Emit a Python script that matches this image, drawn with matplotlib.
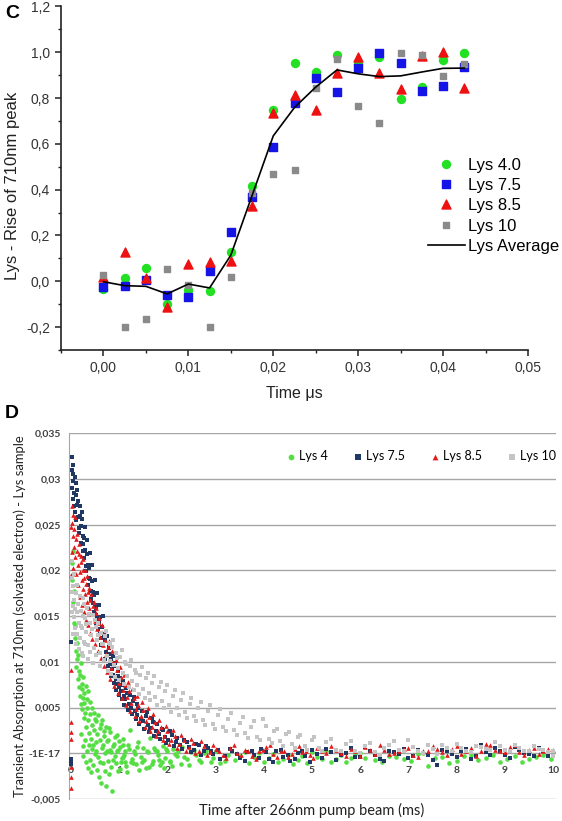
import numpy as np
import matplotlib
matplotlib.use("Agg")
import matplotlib.pyplot as plt
from matplotlib.ticker import FuncFormatter, MultipleLocator

plt.rcParams["font.family"] = ["Liberation Sans", "DejaVu Sans"]

# ---- panel C : rise of the 710nm peak ----
time_us = [0.0, 0.0025, 0.005, 0.0075, 0.01, 0.0125, 0.015, 0.0175, 0.02,
           0.0225, 0.025, 0.0275, 0.03, 0.0325, 0.035, 0.0375, 0.04, 0.0425]
lys40 = [-0.034, 0.015, 0.058, -0.100, -0.040, -0.041, 0.130, 0.415, 0.749,
         0.953, 0.915, 0.988, 0.951, 0.980, 0.798, 0.849, 0.966, 0.998]
lys75 = [-0.023, -0.020, 0.006, -0.058, -0.067, 0.044, 0.215, 0.370, 0.588,
         0.780, 0.886, 0.825, 0.930, 0.998, 0.954, 0.832, 0.853, 0.937]
lys85 = [0.020, 0.130, 0.013, -0.114, 0.076, 0.083, 0.090, 0.327, 0.734,
         0.815, 0.750, 0.910, 0.978, 0.908, 0.838, 0.985, 1.002, 0.842]
lys10 = [0.028, -0.200, -0.165, 0.054, -0.016, -0.200, 0.020, 0.385, 0.469,
         0.486, 0.842, 0.969, 0.765, 0.690, 0.998, 0.990, 0.897, 0.948]
lys_avg = [-0.002, -0.019, -0.022, -0.055, -0.012, -0.029, 0.114, 0.374, 0.635,
           0.759, 0.848, 0.923, 0.906, 0.894, 0.897, 0.914, 0.930, 0.931]

# ---- panel D : transient absorption decay, (time ms, absorbance x 1e-3) ----
d_lys4 = [(0.02, 20.8), (0.03, 18.9), (0.04, 22.1), (0.05, 16.5), (0.06, 14.3), (0.08, 12.6),
          (0.1, 11.2), (0.11, 9.4), (0.13, 10.3), (0.14, 8.1), (0.16, 7.2), (0.17, 9.0),
          (0.19, 6.3), (0.2, 5.4), (0.22, 7.6), (0.23, 4.8), (0.25, 6.1), (0.27, 3.9),
          (0.28, 5.5), (0.3, 4.4), (0.32, 2.9), (0.33, 5.0), (0.35, 3.6), (0.37, 2.2),
          (0.39, 4.3), (0.41, 1.6), (0.43, 3.1), (0.45, 0.9), (0.47, 2.6), (0.49, 3.8),
          (0.51, 1.2), (0.53, 0.3), (0.55, 2.1), (0.57, -0.4), (0.6, 1.5), (0.62, 3.2),
          (0.64, 0.6), (0.66, -1.1), (0.68, 2.4), (0.7, 0.0), (0.72, -3.6), (0.74, 1.3),
          (0.76, -0.8), (0.78, 2.8), (0.8, 0.4), (0.83, -1.5), (0.86, -4.1), (0.89, 1.0),
          (0.92, -0.3), (0.95, 2.0), (0.98, -1.9), (1.01, 0.7), (1.04, -0.9), (1.07, 1.6),
          (1.1, -0.2), (1.14, -1.4), (1.18, 0.9), (1.22, 2.5), (1.26, -0.6), (1.3, 0.3),
          (1.35, -1.2), (1.4, 1.2), (1.45, -0.4), (1.5, 0.6), (1.55, -1.6), (1.6, 0.1),
          (1.65, 1.7), (1.7, -0.8), (1.75, 0.4), (1.8, -0.2), (1.85, -1.3), (1.9, 0.8),
          (1.95, -0.5), (2.0, 0.2), (2.06, -0.9), (2.12, 0.5), (2.2, -0.3), (2.3, 0.7),
          (2.4, -0.6), (2.5, 0.1), (2.6, -0.2), (2.7, -0.9), (2.8, 0.3), (2.95, -0.5),
          (3.1, -1.1), (3.25, -0.2), (3.4, -0.7), (3.6, 0.1), (3.8, -0.4), (4.0, -0.9),
          (4.2, -0.1), (4.4, -0.6), (4.6, -1.2), (4.8, -0.3), (5.0, 0.1), (5.2, -0.6),
          (5.4, -1.0), (5.6, -0.2), (5.8, -0.5), (6.0, 0.0), (6.3, -0.7), (6.6, -0.3),
          (6.9, -0.6), (7.2, -0.1), (7.4, -1.4), (7.7, -0.4), (8.0, -0.8), (8.3, -0.2),
          (8.6, -0.5), (8.9, -0.9), (9.2, -0.3), (9.5, -0.6), (9.8, -0.2),
          (0.21, 2.1), (0.24, 0.8), (0.26, -0.3), (0.29, 1.4), (0.31, -1.0), (0.34, 0.2),
          (0.36, -1.6), (0.38, 0.9), (0.4, -0.7), (0.42, -2.0), (0.44, 0.5), (0.46, -1.3),
          (0.5, -0.1), (0.54, -1.8), (0.58, -2.6), (0.61, -0.9), (0.63, -3.2), (0.67, 0.9),
          (0.71, -1.9), (0.75, 0.2), (0.79, -2.3), (0.84, 0.1), (0.88, -0.7), (0.93, -1.1),
          (0.97, 0.4), (1.02, -1.7), (1.08, -0.4), (1.12, 0.2), (1.17, -2.0), (1.24, -0.9),
          (1.33, -0.1), (1.42, -1.8), (1.52, -0.7), (1.62, -1.5), (1.72, 0.6), (1.82, -0.7),
          (1.92, -1.6), (2.05, -0.8), (2.15, -0.1), (2.28, -1.2),
          (0.07, 17.8), (0.09, 13.9), (0.12, 12.1), (0.15, 10.8), (0.18, 8.6), (0.2, 9.9),
          (0.23, 7.0), (0.26, 8.3), (0.28, 6.6), (0.31, 7.4), (0.34, 5.9), (0.36, 6.8),
          (0.4, 5.6), (0.44, 4.9), (0.48, 4.4), (0.52, 3.5), (0.56, 4.2), (0.6, 2.8),
          (0.65, 3.6), (0.69, 1.9), (0.73, 2.9), (0.77, 1.4), (0.82, 2.3), (0.87, 0.8),
          (0.91, 1.8), (0.96, 0.2), (1.0, 1.3), (1.05, -0.5), (1.09, 0.9), (1.13, -1.0),
          (1.2, 0.5), (1.28, -1.1), (1.37, 0.7), (1.47, -0.9), (1.57, 0.3), (1.68, -1.2),
          (1.78, 0.2), (1.88, -0.9), (1.98, 0.5), (2.1, -1.4), (2.22, 0.3), (2.35, -0.4),
          (2.45, -1.3), (2.55, 0.4), (2.65, -0.7), (2.75, 0.0), (2.9, -1.0), (3.0, 0.2),
          (3.2, -0.8), (3.5, -0.3), (3.7, -1.1), (3.9, 0.0), (4.1, -0.5), (4.3, -1.0),
          (4.5, -0.2), (4.7, -0.7), (4.9, -1.1), (5.1, -0.4), (5.3, 0.2), (5.5, -0.6),
          (5.7, -0.9), (5.9, -0.1), (6.1, -0.5), (6.45, -1.0), (6.75, -0.4), (7.05, -0.8),
          (7.3, 0.0), (7.55, -0.5), (7.85, -1.1), (8.15, -0.3), (8.45, -0.7), (8.75, -0.2),
          (9.05, -0.6), (9.35, -1.0), (9.65, -0.4), (9.95, -0.6)]

d_lys75 = [(0.02, 32.4), (0.03, 31.0), (0.04, 30.6), (0.05, 29.8), (0.03, 29.0), (0.06, 28.5),
           (0.08, 30.2), (0.04, 27.8), (0.1, 28.3), (0.12, 27.2), (0.09, 26.4), (0.15, 27.6),
           (0.14, 25.8), (0.18, 26.0), (0.2, 24.9), (0.17, 24.1), (0.22, 25.6), (0.25, 23.8),
           (0.24, 22.9), (0.28, 23.6), (0.3, 22.2), (0.27, 21.4), (0.33, 21.8), (0.35, 20.6),
           (0.32, 19.9), (0.38, 20.3), (0.4, 19.1), (0.36, 18.4), (0.43, 18.8), (0.45, 17.6),
           (0.42, 16.9), (0.48, 17.3), (0.5, 16.2), (0.47, 15.5), (0.53, 15.9), (0.55, 14.8),
           (0.52, 13.9), (0.58, 14.4), (0.6, 13.2), (0.62, 12.6), (0.65, 13.8), (0.67, 11.9),
           (0.7, 12.4), (0.72, 11.1), (0.75, 10.6), (0.78, 11.5), (0.8, 9.8), (0.83, 10.3),
           (0.85, 9.2), (0.88, 8.6), (0.9, 9.5), (0.93, 8.1), (0.95, 7.6), (0.98, 8.4),
           (1.0, 7.2), (1.03, 6.8), (1.06, 7.5), (1.1, 6.3), (1.13, 5.9), (1.16, 6.6),
           (1.2, 5.4), (1.24, 5.0), (1.28, 5.7), (1.32, 4.6), (1.36, 4.2), (1.4, 4.9),
           (1.45, 3.8), (1.5, 3.5), (1.55, 4.1), (1.6, 3.1), (1.65, 2.8), (1.7, 3.4),
           (1.76, 2.4), (1.82, 2.1), (1.88, 2.7), (1.95, 1.8), (2.02, 1.5), (2.1, 2.0),
           (2.18, 1.2), (2.26, 0.9), (2.35, 1.4), (2.45, 0.7), (2.55, 0.4), (2.65, 0.9),
           (2.75, 0.2), (2.85, 0.6), (2.95, -0.1), (3.05, 0.4), (3.2, -0.3), (3.35, 0.3),
           (3.5, -0.5), (3.65, 0.1), (3.8, -0.2), (3.95, 0.5), (4.1, -0.6), (4.25, 0.2),
           (4.4, -0.4), (4.55, -0.8), (4.7, 0.0), (4.85, -0.3), (5.0, 0.4), (5.2, -0.5),
           (5.4, 0.1), (5.6, -0.2), (5.8, 0.6), (6.0, -0.4), (6.2, 0.2), (6.4, -0.6),
           (6.6, 0.3), (6.8, -0.1), (7.0, -0.5), (7.2, 0.4), (7.4, -0.2), (7.6, -1.3),
           (7.8, 0.2), (8.0, -0.4), (8.2, 0.5), (8.4, -0.3), (8.6, 0.1), (8.8, 0.6),
           (9.0, -0.2), (9.2, 0.7), (9.4, 0.0), (9.6, -0.3), (9.8, 0.2),
           (0.0, 12.2), (0.0, -0.9), (0.0, -1.2), (0.01, -0.6),
           (0.05, 31.5), (0.07, 27.0), (0.1, 29.6), (0.11, 25.5), (0.13, 28.8), (0.16, 24.6),
           (0.19, 27.1), (0.21, 23.0), (0.23, 26.4), (0.26, 22.1), (0.29, 24.7), (0.31, 20.5),
           (0.34, 23.3), (0.37, 19.2), (0.39, 21.9), (0.41, 17.8), (0.44, 20.6), (0.46, 16.4),
           (0.49, 19.0), (0.51, 15.1), (0.54, 17.5), (0.56, 13.6), (0.59, 16.2), (0.61, 14.9),
           (0.63, 11.8), (0.66, 15.0), (0.69, 13.1), (0.71, 10.3), (0.74, 12.8), (0.77, 9.5),
           (0.79, 12.0), (0.82, 10.9), (0.84, 8.4), (0.87, 10.6), (0.89, 7.7), (0.92, 9.9),
           (0.94, 6.9), (0.97, 9.0), (0.99, 6.4), (1.02, 8.2), (1.05, 5.9), (1.08, 7.9),
           (1.11, 5.3), (1.15, 7.1), (1.18, 4.7), (1.22, 6.4), (1.26, 4.3), (1.3, 6.2),
           (1.34, 3.7), (1.38, 5.4), (1.42, 3.2), (1.47, 4.6), (1.52, 2.7), (1.57, 4.5),
           (1.62, 2.3), (1.68, 3.9), (1.73, 1.9), (1.79, 3.2), (1.85, 1.6), (1.91, 2.6),
           (1.98, 1.1), (2.05, 2.4), (2.13, 0.8), (2.21, 1.7), (2.3, 0.5), (2.4, 1.2),
           (2.5, 0.1), (2.6, 1.0), (2.7, -0.2), (2.8, 0.8), (2.9, 0.3),
           (3.1, -0.6), (3.3, 0.5), (3.45, -0.1), (3.6, -0.8), (3.75, 0.3), (3.9, -0.5),
           (4.05, 0.1), (4.2, -0.9), (4.35, 0.4), (4.5, -0.2), (4.65, -0.6), (4.8, 0.3),
           (4.95, -0.9), (5.1, -0.1), (5.3, 0.5), (5.5, -0.7), (5.7, 0.0), (5.9, -0.4),
           (6.1, 0.7), (6.3, -0.2), (6.5, -0.8), (6.7, 0.1), (6.9, 0.5), (7.1, -0.3),
           (7.3, 0.0), (7.5, -0.7), (7.7, 0.4), (7.9, -0.1), (8.1, 0.3), (8.3, -0.6),
           (8.5, 0.9), (8.7, -0.2), (8.9, 0.2), (9.1, -0.5), (9.3, 0.4), (9.5, -0.1),
           (9.7, 0.6), (9.9, -0.3)]

d_lys85 = [(0.02, 27.0), (0.03, 25.2), (0.05, 26.1), (0.04, 23.8), (0.07, 24.5), (0.06, 22.6),
           (0.1, 23.4), (0.09, 21.5), (0.12, 22.1), (0.14, 20.6), (0.16, 21.8), (0.18, 19.8),
           (0.2, 20.9), (0.22, 18.9), (0.24, 20.1), (0.26, 18.0), (0.28, 19.2), (0.3, 17.4),
           (0.32, 18.5), (0.34, 16.6), (0.36, 17.6), (0.38, 15.9), (0.4, 16.8), (0.43, 15.2),
           (0.46, 16.1), (0.49, 14.5), (0.52, 15.3), (0.55, 13.6), (0.58, 14.2), (0.61, 12.7),
           (0.64, 13.3), (0.67, 11.8), (0.7, 12.4), (0.73, 10.9), (0.76, 11.6), (0.8, 10.2),
           (0.84, 9.3), (0.88, 10.0), (0.92, 8.5), (0.96, 9.1), (1.0, 7.7), (1.04, 8.3),
           (1.08, 6.9), (1.12, 7.5), (1.16, 6.2), (1.2, 6.8), (1.25, 5.5), (1.3, 6.0),
           (1.35, 4.8), (1.4, 5.3), (1.45, 4.1), (1.5, 4.7), (1.56, 3.5), (1.62, 4.0),
           (1.68, 2.9), (1.74, 3.4), (1.8, 2.4), (1.86, 2.9), (1.93, 1.9), (2.0, 2.4),
           (2.08, 1.5), (2.16, 1.9), (2.25, 1.0), (2.34, 1.5), (2.44, 0.7), (2.54, 1.1),
           (2.65, 0.3), (2.76, 0.8), (2.88, 0.1), (3.0, 0.5), (3.15, -0.2), (3.3, 0.6),
           (3.45, 0.0), (3.6, 0.4), (3.75, -0.3), (3.9, 0.2), (4.05, 0.7), (4.2, -0.1),
           (4.35, 0.3), (4.5, -0.4), (4.65, 0.5), (4.8, 0.1), (4.95, -0.2), (5.1, 0.6),
           (5.3, 0.0), (5.5, 0.4), (5.7, -0.3), (5.9, 0.3), (6.1, 0.7), (6.3, -0.1),
           (6.5, 0.4), (6.7, 0.0), (6.9, 0.5), (7.1, -0.2), (7.3, 0.3), (7.5, 0.8),
           (7.7, 0.1), (7.9, 0.5), (8.1, -0.1), (8.3, 0.6), (8.5, 0.2), (8.7, 0.9),
           (8.9, 0.3), (9.1, 0.7), (9.3, 0.1), (9.5, 0.4), (9.7, -0.1), (9.9, 0.5),
           (0.0, 9.1), (0.0, 3.4), (0.0, 2.3), (0.0, 1.6), (0.0, -1.5), (0.0, -2.6),
           (0.01, -3.8), (0.0, 19.5), (0.0, 24.8),
           (0.03, 22.0), (0.05, 20.3), (0.08, 25.8), (0.1, 19.6), (0.13, 24.0), (0.15, 18.4),
           (0.17, 22.9), (0.19, 17.1), (0.21, 21.6), (0.23, 16.2), (0.25, 21.2), (0.27, 15.4),
           (0.29, 20.0), (0.31, 14.6), (0.33, 19.4), (0.35, 14.0), (0.37, 18.1), (0.39, 13.2),
           (0.41, 17.4), (0.44, 12.5), (0.47, 16.6), (0.5, 11.9), (0.53, 15.9), (0.56, 11.2),
           (0.59, 14.8), (0.62, 10.4), (0.65, 14.0), (0.68, 9.6), (0.71, 13.0), (0.74, 8.9),
           (0.78, 12.3), (0.82, 8.1), (0.86, 11.2), (0.9, 7.4), (0.94, 10.2), (0.98, 6.6),
           (1.02, 9.4), (1.06, 6.0), (1.1, 8.6), (1.14, 5.3), (1.18, 7.8), (1.22, 4.6),
           (1.27, 7.0), (1.32, 4.1), (1.37, 6.3), (1.42, 3.5), (1.48, 5.6), (1.53, 2.9),
           (1.59, 4.9), (1.65, 2.4), (1.71, 4.3), (1.77, 1.9), (1.83, 3.6), (1.9, 1.4),
           (1.97, 3.0), (2.04, 1.0), (2.12, 2.6), (2.2, 0.6), (2.29, 2.0), (2.38, 0.3),
           (2.48, 1.6), (2.58, 0.0), (2.7, 1.3), (2.82, -0.2), (2.94, 0.9),
           (3.08, 0.2), (3.22, -0.5), (3.38, 0.9), (3.52, -0.2), (3.68, 0.3), (3.83, -0.6),
           (3.98, 0.4), (4.12, 0.9), (4.28, -0.4), (4.42, 0.2), (4.58, -0.1), (4.72, 0.8),
           (4.88, 0.3), (5.02, -0.5), (5.2, 0.2), (5.4, 0.8), (5.6, 0.0), (5.8, 0.5),
           (6.0, -0.3), (6.2, 0.4), (6.4, 0.9), (6.6, -0.1), (6.8, 0.3), (7.0, 0.6),
           (7.2, -0.4), (7.4, 0.2), (7.6, 0.5), (7.8, -0.2), (8.0, 0.8), (8.2, 0.3),
           (8.4, -0.3), (8.6, 1.0), (8.8, 0.4), (9.0, 0.1), (9.2, 0.9), (9.4, -0.2),
           (9.6, 0.6), (9.8, 0.2), (10.0, 0.4)]

d_lys10 = [(0.02, 19.2), (0.03, 17.6), (0.04, 16.1), (0.05, 18.3), (0.06, 14.9), (0.07, 16.8),
           (0.08, 13.7), (0.1, 17.5), (0.12, 15.4), (0.13, 13.1), (0.15, 16.3), (0.17, 14.2),
           (0.19, 12.6), (0.21, 15.6), (0.23, 13.7), (0.25, 17.0), (0.27, 12.2), (0.29, 14.8),
           (0.31, 13.3), (0.33, 15.9), (0.36, 11.8), (0.39, 14.3), (0.42, 12.9), (0.45, 15.1),
           (0.48, 11.5), (0.51, 13.8), (0.54, 12.4), (0.57, 14.3), (0.6, 11.0), (0.63, 13.2),
           (0.66, 11.9), (0.7, 12.8), (0.74, 10.6), (0.78, 12.1), (0.82, 10.1), (0.86, 11.6),
           (0.9, 9.7), (0.94, 11.0), (0.98, 9.3), (1.02, 10.5), (1.07, 8.8), (1.12, 10.0),
           (1.17, 8.4), (1.22, 9.5), (1.27, 7.9), (1.32, 9.1), (1.38, 7.5), (1.44, 8.6),
           (1.5, 7.0), (1.56, 8.2), (1.62, 6.6), (1.68, 7.7), (1.75, 6.2), (1.82, 7.3),
           (1.89, 5.7), (1.96, 6.8), (2.04, 5.3), (2.12, 6.3), (2.2, 4.9), (2.28, 5.8),
           (2.37, 4.5), (2.46, 5.4), (2.55, 4.1), (2.64, 5.0), (2.74, 3.6), (2.84, 4.6),
           (2.94, 3.2), (3.04, 4.2), (3.15, 2.9), (3.26, 3.8), (3.38, 2.5), (3.5, 3.3),
           (3.62, 2.2), (3.74, 2.9), (3.86, 1.8), (3.98, 3.7), (4.1, 1.6), (4.22, 2.4),
           (4.34, 1.3), (4.46, 2.1), (4.58, 1.0), (4.7, 1.8), (4.85, 0.8), (5.0, 1.5),
           (5.15, 0.6), (5.3, 1.2), (5.5, 0.4), (5.7, 1.0), (5.9, 0.3), (6.1, 0.8),
           (6.3, 0.1), (6.5, 0.6), (6.7, 1.3), (6.9, 0.2), (7.1, 0.7), (7.3, 0.0),
           (7.5, 0.5), (7.7, 0.9), (7.9, 0.3), (8.1, 0.6), (8.3, 0.1), (8.5, 0.7),
           (8.7, 0.4), (8.9, 0.8), (9.1, 0.2), (9.3, 0.6), (9.5, 0.3), (9.7, 0.5),
           (9.9, 0.1), (10.0, -0.3),
           (0.02, 15.5), (0.03, 21.0), (0.05, 13.0), (0.07, 19.6), (0.09, 15.8), (0.11, 12.0),
           (0.13, 18.4), (0.16, 11.4), (0.18, 17.2), (0.2, 13.9), (0.22, 11.0), (0.24, 15.0),
           (0.26, 10.6), (0.28, 16.3), (0.3, 11.9), (0.32, 14.1), (0.35, 10.3), (0.37, 15.2),
           (0.4, 11.1), (0.43, 13.6), (0.46, 9.9), (0.5, 14.6), (0.53, 10.8), (0.56, 12.9),
           (0.6, 9.6), (0.64, 12.0), (0.68, 10.2), (0.72, 13.4), (0.76, 9.0), (0.8, 11.9),
           (0.84, 8.7), (0.88, 12.4), (0.92, 8.3), (0.96, 10.4), (1.0, 8.0), (1.05, 11.3),
           (1.1, 7.6), (1.15, 9.8), (1.2, 7.2), (1.25, 10.2), (1.3, 6.9), (1.35, 8.8),
           (1.41, 6.5), (1.47, 9.4), (1.53, 6.1), (1.59, 8.8), (1.65, 5.8), (1.72, 8.4),
           (1.79, 5.3), (1.86, 7.8), (1.93, 4.9), (2.0, 7.5), (2.08, 4.5), (2.16, 6.9),
           (2.24, 4.2), (2.32, 6.6), (2.41, 3.9), (2.5, 6.1), (2.59, 3.5), (2.69, 5.6),
           (2.79, 3.1), (2.89, 5.3), (2.99, 2.7), (3.1, 4.8), (3.21, 2.4), (3.32, 4.4),
           (3.44, 2.0), (3.56, 4.0), (3.68, 1.7), (3.8, 3.5), (3.92, 1.4), (4.04, 3.0),
           (4.16, 1.1), (4.28, 2.7), (4.4, 0.8), (4.52, 2.3), (4.64, 0.6), (4.76, 2.0),
           (4.9, 0.4), (5.05, 1.8), (5.2, 0.3), (5.4, 1.6), (5.6, 0.2), (5.8, 1.3),
           (6.0, 0.0), (6.2, 1.1), (6.4, -0.2), (6.6, 0.9), (6.8, 0.4), (7.0, 1.4),
           (7.2, 0.3), (7.4, 0.9), (7.6, -0.1), (7.8, 0.6), (8.0, 1.0), (8.2, 0.2),
           (8.4, 0.8), (8.6, 0.5), (8.8, 1.2), (9.0, 0.4), (9.2, 0.9), (9.4, 0.2),
           (9.6, 0.8), (9.8, 0.4), (10.0, 0.3)]

fig = plt.figure(figsize=(5.62, 8.21), dpi=100)

# ================= panel C =================
axc = fig.add_axes([61 / 562, 1 - 350 / 821, 467 / 562, 343.5 / 821])
axc.scatter(time_us, lys40, s=33, marker="o", color="#22e022", label="Lys 4.0", zorder=3)
axc.scatter(time_us, lys75, s=30, marker="s", color="#1414e6", label="Lys 7.5", zorder=3)
axc.scatter(time_us, lys85, s=42, marker="^", color="#ee1111", label="Lys 8.5", zorder=3)
axc.scatter(time_us, lys10, s=24, marker="s", color="#8a8a8a", label="Lys 10", zorder=3)
axc.plot(time_us, lys_avg, color="black", lw=1.2, label="Lys Average", zorder=4)

axc.set_xlim(-0.005, 0.05)
axc.set_ylim(-0.3, 1.2)
axc.xaxis.set_major_locator(MultipleLocator(0.01))
axc.xaxis.set_minor_locator(MultipleLocator(0.005))
axc.yaxis.set_major_locator(MultipleLocator(0.2))
axc.yaxis.set_minor_locator(MultipleLocator(0.1))
axc.xaxis.set_major_formatter(FuncFormatter(lambda v, p: f"{v:.2f}".replace(".", ",")))
axc.yaxis.set_major_formatter(FuncFormatter(lambda v, p: f"{v:.1f}".replace(".", ",")))
for s in ["top", "right"]:
    axc.spines[s].set_visible(False)
for s in ["left", "bottom"]:
    axc.spines[s].set_linewidth(1.2)
    axc.spines[s].set_color("#222222")
axc.tick_params(which="major", direction="out", length=4.5, width=1.1, labelsize=10,
                labelcolor="#333333", color="#222222")
axc.tick_params(which="minor", direction="out", length=2.5, width=1.0, color="#222222")
axc.set_xlabel("Time \u03bcs", fontsize=11.5, color="#222222", labelpad=8)
axc.set_ylabel("Lys - Rise of 710nm peak", fontsize=12, color="#222222")
axc.yaxis.set_label_coords(-0.088, 0.477)

axc.legend(loc="upper left", bbox_to_anchor=(0.786, 0.56), frameon=False, fontsize=12,
           handlelength=2.2, handletextpad=0.2, labelspacing=0.32, borderpad=0,
           borderaxespad=0, scatteryoffsets=[0.5])
fig.text(5 / 562, 1 - 13 / 821, "C", fontsize=14, fontweight="bold", va="center")

# ================= panel D =================
dfont = ["Lato", "DejaVu Sans"]
axd = fig.add_axes([69 / 562, 1 - 799 / 821, 487 / 562, 365.7 / 821])
series_d = [
    (d_lys4, "o", "#55dd44", "Lys 4"),
    (d_lys75, "s", "#1f3864", "Lys 7.5"),
    (d_lys85, "^", "#e21a1a", "Lys 8.5"),
    (d_lys10, "s", "#c4c4c4", "Lys 10"),
]
for pts, mk, col, lab in series_d:
    arr = np.array(pts)
    axd.scatter(arr[:, 0], arr[:, 1] * 1e-3, s=11, marker=mk, color=col, lw=0,
                label=lab, zorder=3)

axd.set_xlim(-0.04, 10.06)
axd.set_ylim(-0.005, 0.035)
yt = [-0.005, 0.0, 0.005, 0.01, 0.015, 0.02, 0.025, 0.03, 0.035]
ytl = ["-0,005", "-1E-17", "0,005", "0,01", "0,015", "0,02", "0,025", "0,03", "0,035"]
axd.set_yticks(yt, ytl)
axd.set_xticks(range(0, 11), [str(i) for i in range(0, 11)])
axd.grid(axis="y", color="#a6a6a6", lw=1.0, zorder=0)
axd.set_axisbelow(True)
for s in ["top", "right"]:
    axd.spines[s].set_visible(False)
axd.spines["left"].set_color("#a6a6a6")
axd.spines["bottom"].set_position(("data", 0.0))
axd.spines["bottom"].set_visible(False)
axd.tick_params(axis="y", length=0, pad=6, labelsize=7.5, labelcolor="#404040")
axd.tick_params(axis="x", length=0, pad=9, labelsize=7.5, labelcolor="#404040")
for lb in axd.get_xticklabels() + axd.get_yticklabels():
    lb.set_family(dfont)
    lb.set_fontweight("bold")

axd.set_ylabel("Transient Absorption at 710nm (solvated electron) - Lys sample",
               fontsize=9.4, family=dfont, color="#222222", labelpad=2)
fig.text(312 / 562, 1 - 810 / 821, "Time after 266nm pump beam (ms)", fontsize=10.5,
         family=dfont, color="#222222", ha="center", va="center")
axd.legend(loc="center right", bbox_to_anchor=(1.0, 0.938), ncol=4, frameon=False,
           prop={"family": dfont, "size": 9}, markerscale=1.25, handletextpad=0.15,
           columnspacing=1.9, borderpad=0, borderaxespad=0, handlelength=1.0)
fig.text(5 / 562, 1 - 413 / 821, "D", fontsize=14, fontweight="bold", va="center")

fig.savefig("out.png", dpi=100)
